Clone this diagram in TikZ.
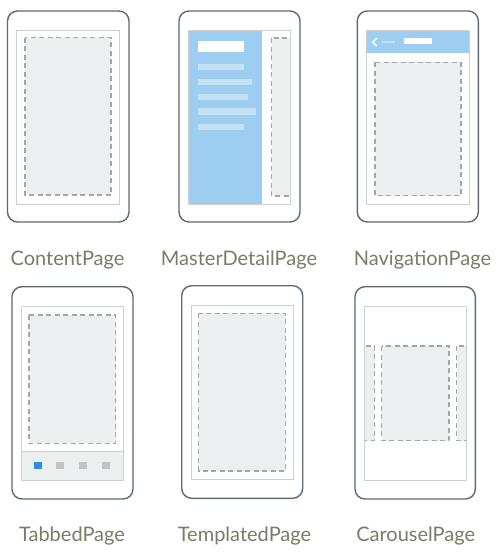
\documentclass[tikz,border=0pt]{standalone}
\usepackage{fontspec}
\setmainfont{Lato}
\definecolor{frame}{HTML}{5F6A74}
\definecolor{screenline}{HTML}{CDD1D1}
\definecolor{dashline}{HTML}{A3A7A9}
\definecolor{pagefill}{HTML}{ECEFEF}
\definecolor{masterblue}{HTML}{9DCDF0}
\definecolor{menubar}{HTML}{C4E1F6}
\definecolor{tabblue}{HTML}{2F8FDF}
\definecolor{tabgray}{HTML}{BEC6C4}
\definecolor{labeltext}{HTML}{7B7B69}
\tikzset{
  phone/.style={draw=frame, line width=1.4pt, rounded corners=10pt, fill=white},
  screen/.style={draw=screenline, line width=1pt},
  content/.style={draw=dashline, fill=pagefill, line width=1.3pt, dash pattern=on 5pt off 3.5pt},
  caption/.style={text=labeltext, font=\fontsize{20}{24}\selectfont, anchor=base},
}
\begin{document}
\begin{tikzpicture}[x=1pt, y=-1pt]
\useasboundingbox[fill=white] (0,0) rectangle (501,560);

% ContentPage
\draw[phone] (7.5,11) rectangle (129,222);
\draw[screen] (16.7,30) rectangle (119,204);
\draw[content] (25,37.7) rectangle (111,195);
\node[caption] (lblcontent) at (67.5,265) {ContentPage};

% MasterDetailPage
\draw[phone] (179,11) rectangle (300,222);
\begin{scope}
  \clip (188.3,30) rectangle (290.7,204);
  \draw[content] (271.7,38) rectangle (300,196);
\end{scope}
\fill[masterblue] (188.3,30) rectangle (261.7,204);
\fill[white] (197.7,40.7) rectangle (244,51.7);
\fill[menubar] (197.7,64) rectangle (244,70.3);
\fill[menubar] (197.7,78.7) rectangle (252,85.3);
\fill[menubar] (197.7,94) rectangle (247.7,100);
\fill[menubar] (197.7,108.3) rectangle (256,115);
\fill[menubar] (197.7,124) rectangle (244,130);
\draw[screen] (188.3,30) rectangle (290.7,204);
\node[caption] (lblmaster) at (239,265) {MasterDetailPage};

% NavigationPage
\draw[phone] (357.3,11) rectangle (478.3,222);
\fill[masterblue] (366.7,30) rectangle (469,52.7);
\draw[white, line width=1.6pt, line cap=round, line join=round] (376.5,38.5) -- (372.6,42.2) -- (376.5,45.9);
\fill[menubar] (381.7,40.6) rectangle (395,42.8);
\fill[white] (404,38.3) rectangle (431.7,44.3);
\draw[content] (375,62.3) rectangle (461,195.7);
\draw[screen] (366.7,30) rectangle (469,204);
\node[caption] (lblnav) at (422.5,265) {NavigationPage};

% TabbedPage
\draw[phone] (12,286.7) rectangle (133,499);
\fill[pagefill] (21,451.7) rectangle (123.3,480);
\draw[screen] (21,451.7) -- (123.3,451.7);
\draw[content] (29,315) rectangle (115.7,443.3);
\fill[tabblue] (34.3,461.7) rectangle (42.3,469.3);
\fill[tabgray] (56,461.7) rectangle (64,469.3);
\fill[tabgray] (79.3,461.7) rectangle (87.3,469.3);
\fill[tabgray] (102,461.7) rectangle (110,469.3);
\draw[screen] (21,306) rectangle (123.3,480);
\node[caption] (lbltabbed) at (72,541.7) {TabbedPage};

% TemplatedPage
\draw[phone] (181.7,285.7) rectangle (302.7,498.3);
\draw[screen] (191,305) rectangle (293,479);
\draw[content] (198.7,313.3) rectangle (285.3,471);
\node[caption] (lbltemplated) at (244.5,541.7) {TemplatedPage};

% CarouselPage
\draw[phone] (355,286.7) rectangle (475.3,499);
\begin{scope}
  \clip (364.3,306) rectangle (466.7,480);
  \draw[content] (355,346) rectangle (374.3,440.7);
  \draw[content] (456.7,346) rectangle (476,440.7);
\end{scope}
\draw[content] (381.7,346) rectangle (449,440.7);
\draw[screen] (364.3,306) rectangle (466.7,480);
\node[caption] (lblcarousel) at (415.7,541.7) {CarouselPage};
\end{tikzpicture}
\end{document}
